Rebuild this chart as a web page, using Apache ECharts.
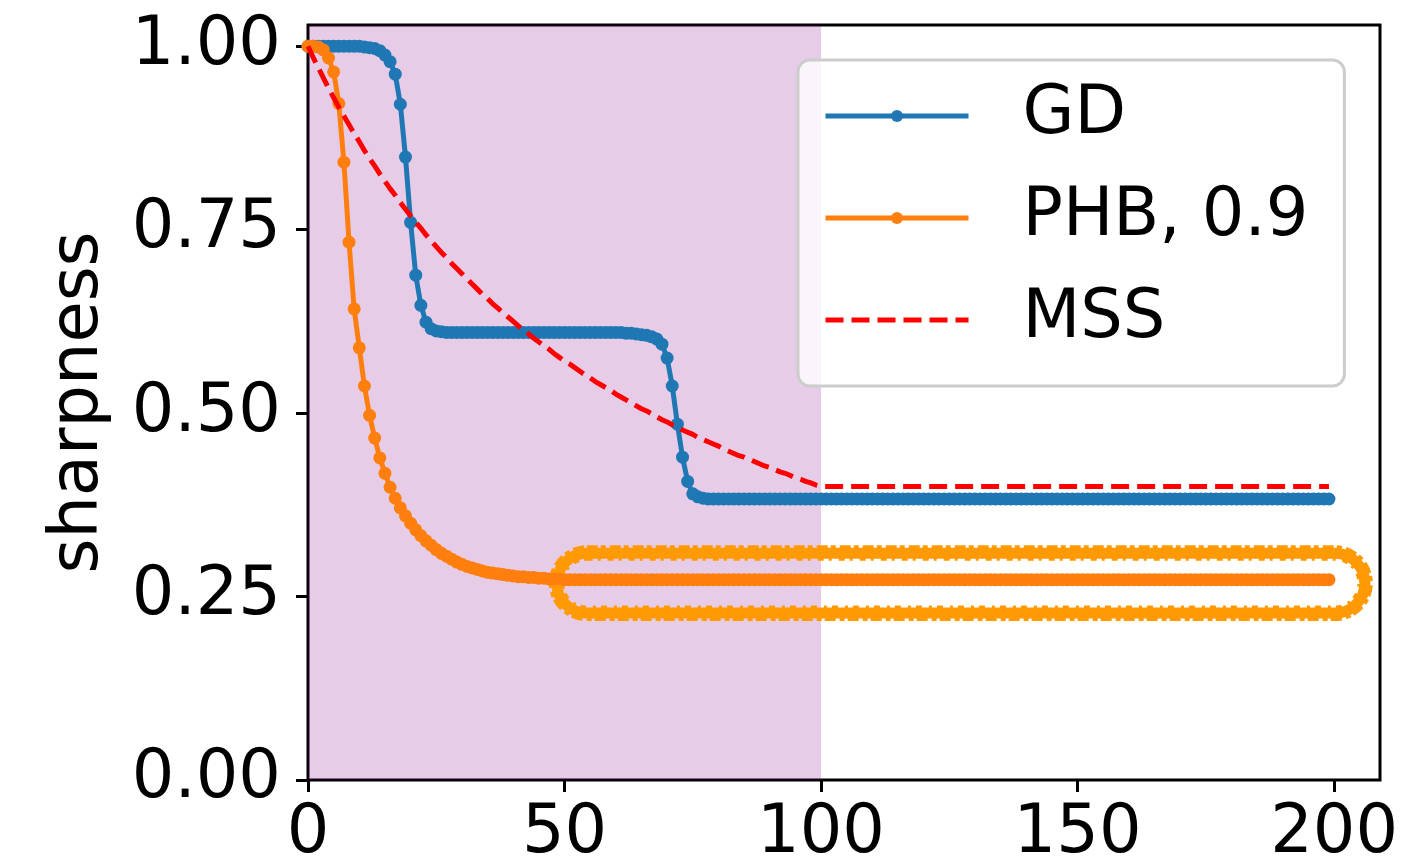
<!DOCTYPE html>
<html>
<head>
<meta charset="utf-8">
<title>sharpness</title>
<script src="https://cdn.jsdelivr.net/npm/echarts@6/dist/echarts.min.js"></script>
<style>
  html, body { margin: 0; padding: 0; background: #ffffff; overflow: hidden; }
  #chart { width: 1419px; height: 859px; }
</style>
</head>
<body>
<div id="chart"></div>
<script>
// Sharpness per iteration for each method (iterations 0..199)
const gdSharpness = [
  1.000, 1.000, 1.000, 1.000, 1.000, 1.000, 1.000, 1.000, 1.000, 1.000,
  1.000, 0.999, 0.998, 0.997, 0.994, 0.988, 0.979, 0.962, 0.921, 0.849,
  0.760, 0.688, 0.647, 0.624, 0.615, 0.612, 0.611, 0.610, 0.610, 0.610,
  0.610, 0.610, 0.610, 0.610, 0.610, 0.610, 0.610, 0.610, 0.610, 0.610,
  0.610, 0.610, 0.610, 0.610, 0.610, 0.610, 0.610, 0.610, 0.610, 0.610,
  0.610, 0.610, 0.610, 0.610, 0.610, 0.610, 0.610, 0.610, 0.610, 0.610,
  0.610, 0.610, 0.609, 0.609, 0.608, 0.607, 0.606, 0.604, 0.601, 0.594,
  0.575, 0.537, 0.485, 0.440, 0.407, 0.390, 0.386, 0.384, 0.383, 0.383,
  0.383, 0.383, 0.383, 0.383, 0.383, 0.383, 0.383, 0.383, 0.383, 0.383,
  0.383, 0.383, 0.383, 0.383, 0.383, 0.383, 0.383, 0.383, 0.383, 0.383,
  0.383, 0.383, 0.383, 0.383, 0.383, 0.383, 0.383, 0.383, 0.383, 0.383,
  0.383, 0.383, 0.383, 0.383, 0.383, 0.383, 0.383, 0.383, 0.383, 0.383,
  0.383, 0.383, 0.383, 0.383, 0.383, 0.383, 0.383, 0.383, 0.383, 0.383,
  0.383, 0.383, 0.383, 0.383, 0.383, 0.383, 0.383, 0.383, 0.383, 0.383,
  0.383, 0.383, 0.383, 0.383, 0.383, 0.383, 0.383, 0.383, 0.383, 0.383,
  0.383, 0.383, 0.383, 0.383, 0.383, 0.383, 0.383, 0.383, 0.383, 0.383,
  0.383, 0.383, 0.383, 0.383, 0.383, 0.383, 0.383, 0.383, 0.383, 0.383,
  0.383, 0.383, 0.383, 0.383, 0.383, 0.383, 0.383, 0.383, 0.383, 0.383,
  0.383, 0.383, 0.383, 0.383, 0.383, 0.383, 0.383, 0.383, 0.383, 0.383,
  0.383, 0.383, 0.383, 0.383, 0.383, 0.383, 0.383, 0.383, 0.383, 0.383
];

const phbSharpness = [
  1.000, 1.000, 0.999, 0.995, 0.984, 0.965, 0.922, 0.842, 0.733, 0.642,
  0.589, 0.537, 0.497, 0.466, 0.439, 0.418, 0.399, 0.384, 0.371, 0.360,
  0.350, 0.341, 0.333, 0.326, 0.320, 0.314, 0.309, 0.305, 0.301, 0.297,
  0.294, 0.291, 0.289, 0.287, 0.285, 0.283, 0.282, 0.281, 0.280, 0.279,
  0.278, 0.277, 0.277, 0.276, 0.276, 0.275, 0.275, 0.274, 0.274, 0.274,
  0.273, 0.273, 0.273, 0.273, 0.273, 0.273, 0.273, 0.273, 0.273, 0.273,
  0.273, 0.273, 0.273, 0.273, 0.273, 0.273, 0.273, 0.273, 0.273, 0.273,
  0.273, 0.273, 0.273, 0.273, 0.273, 0.273, 0.273, 0.273, 0.273, 0.273,
  0.273, 0.273, 0.273, 0.273, 0.273, 0.273, 0.273, 0.273, 0.273, 0.273,
  0.273, 0.273, 0.273, 0.273, 0.273, 0.273, 0.273, 0.273, 0.273, 0.273,
  0.273, 0.273, 0.273, 0.273, 0.273, 0.273, 0.273, 0.273, 0.273, 0.273,
  0.273, 0.273, 0.273, 0.273, 0.273, 0.273, 0.273, 0.273, 0.273, 0.273,
  0.273, 0.273, 0.273, 0.273, 0.273, 0.273, 0.273, 0.273, 0.273, 0.273,
  0.273, 0.273, 0.273, 0.273, 0.273, 0.273, 0.273, 0.273, 0.273, 0.273,
  0.273, 0.273, 0.273, 0.273, 0.273, 0.273, 0.273, 0.273, 0.273, 0.273,
  0.273, 0.273, 0.273, 0.273, 0.273, 0.273, 0.273, 0.273, 0.273, 0.273,
  0.273, 0.273, 0.273, 0.273, 0.273, 0.273, 0.273, 0.273, 0.273, 0.273,
  0.273, 0.273, 0.273, 0.273, 0.273, 0.273, 0.273, 0.273, 0.273, 0.273,
  0.273, 0.273, 0.273, 0.273, 0.273, 0.273, 0.273, 0.273, 0.273, 0.273,
  0.273, 0.273, 0.273, 0.273, 0.273, 0.273, 0.273, 0.273, 0.273, 0.273
];

const mssSharpness = [
  1.000, 0.985, 0.971, 0.957, 0.943, 0.930, 0.917, 0.905, 0.893, 0.881,
  0.870, 0.858, 0.847, 0.837, 0.826, 0.816, 0.806, 0.797, 0.787, 0.778,
  0.769, 0.760, 0.752, 0.743, 0.735, 0.727, 0.719, 0.712, 0.704, 0.697,
  0.690, 0.683, 0.676, 0.669, 0.662, 0.656, 0.649, 0.643, 0.637, 0.631,
  0.625, 0.619, 0.613, 0.608, 0.602, 0.597, 0.592, 0.587, 0.581, 0.576,
  0.571, 0.567, 0.562, 0.557, 0.552, 0.548, 0.543, 0.539, 0.535, 0.531,
  0.526, 0.522, 0.518, 0.514, 0.510, 0.506, 0.503, 0.499, 0.495, 0.491,
  0.488, 0.484, 0.481, 0.477, 0.474, 0.471, 0.467, 0.464, 0.461, 0.458,
  0.455, 0.451, 0.448, 0.445, 0.442, 0.440, 0.437, 0.434, 0.431, 0.428,
  0.426, 0.423, 0.420, 0.418, 0.415, 0.412, 0.410, 0.407, 0.405, 0.402,
  0.400, 0.400, 0.400, 0.400, 0.400, 0.400, 0.400, 0.400, 0.400, 0.400,
  0.400, 0.400, 0.400, 0.400, 0.400, 0.400, 0.400, 0.400, 0.400, 0.400,
  0.400, 0.400, 0.400, 0.400, 0.400, 0.400, 0.400, 0.400, 0.400, 0.400,
  0.400, 0.400, 0.400, 0.400, 0.400, 0.400, 0.400, 0.400, 0.400, 0.400,
  0.400, 0.400, 0.400, 0.400, 0.400, 0.400, 0.400, 0.400, 0.400, 0.400,
  0.400, 0.400, 0.400, 0.400, 0.400, 0.400, 0.400, 0.400, 0.400, 0.400,
  0.400, 0.400, 0.400, 0.400, 0.400, 0.400, 0.400, 0.400, 0.400, 0.400,
  0.400, 0.400, 0.400, 0.400, 0.400, 0.400, 0.400, 0.400, 0.400, 0.400,
  0.400, 0.400, 0.400, 0.400, 0.400, 0.400, 0.400, 0.400, 0.400, 0.400,
  0.400, 0.400, 0.400, 0.400, 0.400, 0.400, 0.400, 0.400, 0.400, 0.400
];

const seriesNames = ['GD', 'PHB, 0.9', 'MSS'];
const xTicks = [0, 50, 100, 150, 200];
const yTicks = [0, 0.25, 0.5, 0.75, 1.0];
// shaded warm-up window (iterations)
const shadeRange = [0, 100];
// rounded highlight around the PHB plateau: [xStart, xEnd, yLow, yHigh]
const highlightBox = [48.5, 206, 0.2275, 0.309];

const FONT = 'DejaVu Sans';
const toPairs = arr => arr.map((v, i) => [i, v]);

const chart = echarts.init(document.getElementById('chart'), null, { renderer: 'canvas' });

function roundedRect(x0, y0, x1, y1, inset, style) {
  const h = (y1 - y0) - 2 * inset;
  return {
    type: 'rect',
    shape: { x: x0 + inset, y: y0 + inset, width: (x1 - x0) - 2 * inset, height: h, r: h / 2 },
    style: Object.assign({ fill: null }, style)
  };
}

const option = {
  animation: false,
  backgroundColor: '#ffffff',
  textStyle: { fontFamily: FONT },
  grid: {
    left: 308, right: 39, top: 25, bottom: 79,
    outerBoundsMode: 'none',
    containLabel: false,
    show: true, borderColor: '#000000', borderWidth: 3, backgroundColor: 'transparent'
  },
  legend: {
    data: [
      { name: 'GD' },
      { name: 'PHB, 0.9' },
      { name: 'MSS', itemStyle: { opacity: 0 } }
    ],
    orient: 'vertical',
    left: 798, top: 60,
    padding: [16, 36, 26, 25],
    itemWidth: 143, itemHeight: 15, itemGap: 22,
    lineStyle: { width: 5 },
    backgroundColor: 'rgba(255,255,255,0.8)',
    borderColor: '#cccccc', borderWidth: 3, borderRadius: 12,
    textStyle: { fontSize: 67, fontFamily: FONT, color: '#000000', lineHeight: 80, padding: [0, 0, 0, 49] }
  },
  xAxis: {
    type: 'value', min: 0, max: 208.95,
    axisLine: { show: false },
    splitLine: { show: false },
    axisTick: { show: true, length: 12, lineStyle: { color: '#000', width: 3 }, customValues: xTicks },
    axisLabel: { customValues: xTicks, fontSize: 67, fontFamily: FONT, color: '#000', margin: 21 }
  },
  yAxis: {
    type: 'value', min: 0, max: 1.029,
    name: 'sharpness', nameLocation: 'middle', nameRotate: 90, nameGap: 195,
    nameTextStyle: { fontSize: 67, fontFamily: FONT, color: '#000' },
    axisLine: { show: false },
    splitLine: { show: false },
    axisTick: { show: true, length: 12, lineStyle: { color: '#000', width: 3 }, customValues: yTicks },
    axisLabel: { customValues: yTicks, fontSize: 67, fontFamily: FONT, color: '#000', margin: 27,
      formatter: v => v.toFixed(2) }
  },
  series: [
    {
      name: 'shade', type: 'line', data: [], z: 1, silent: true,
      markArea: {
        silent: true,
        itemStyle: { color: 'rgba(128,0,128,0.2)' },
        data: [[{ xAxis: shadeRange[0] }, { xAxis: shadeRange[1] }]]
      }
    },
    {
      name: 'highlight', type: 'custom', z: 2, silent: true,
      data: [[highlightBox[0], highlightBox[2]]],
      renderItem: function (params, api) {
        const p0 = api.coord([highlightBox[0], highlightBox[3]]);
        const p1 = api.coord([highlightBox[1], highlightBox[2]]);
        const c = '#ff9a05';
        return {
          type: 'group',
          children: [
            roundedRect(p0[0], p0[1], p1[0], p1[1], 0, { stroke: c, lineWidth: 11 }),
            roundedRect(p0[0], p0[1], p1[0], p1[1], -5, { stroke: c, lineWidth: 6, lineDash: [11, 3, 5, 4] }),
            roundedRect(p0[0], p0[1], p1[0], p1[1], 5, { stroke: c, lineWidth: 5, lineDash: [6, 5, 3, 7] })
          ]
        };
      }
    },
    {
      name: 'GD', type: 'line', z: 3,
      data: toPairs(gdSharpness),
      symbol: 'circle', symbolSize: 13, showSymbol: true,
      lineStyle: { color: '#1f77b4', width: 5 },
      itemStyle: { color: '#1f77b4' }
    },
    {
      name: 'PHB, 0.9', type: 'line', z: 4,
      data: toPairs(phbSharpness),
      symbol: 'circle', symbolSize: 13, showSymbol: true,
      lineStyle: { color: '#ff7f0e', width: 5 },
      itemStyle: { color: '#ff7f0e' }
    },
    {
      name: 'MSS', type: 'line', z: 5,
      data: toPairs(mssSharpness),
      symbol: 'none',
      lineStyle: { color: '#ff0000', width: 5, type: [18, 8] },
      itemStyle: { color: '#ff0000' }
    }
  ]
};

chart.setOption(option);
</script>
</body>
</html>
